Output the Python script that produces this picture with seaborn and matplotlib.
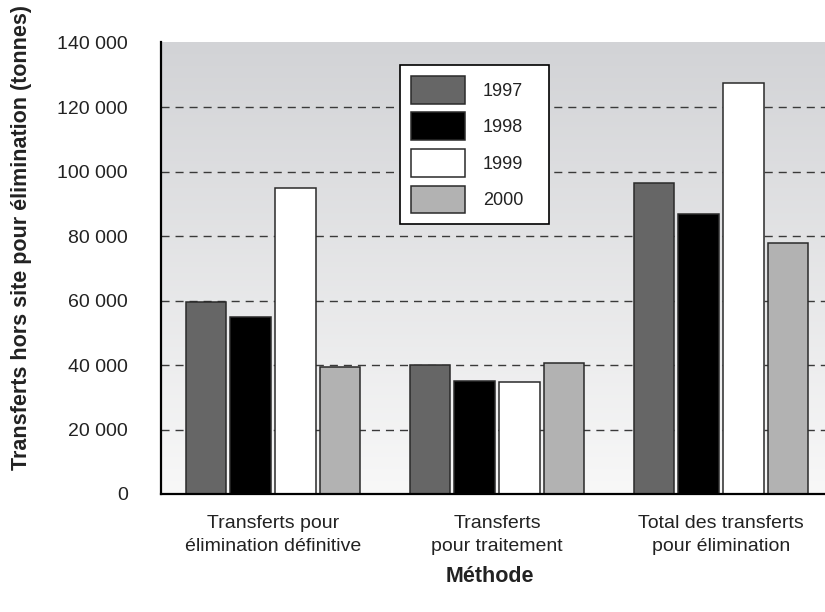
import numpy as np
import pandas as pd
import matplotlib
matplotlib.use('Agg')
import matplotlib.pyplot as plt
import seaborn as sns

methodes = ['Transferts pour\nélimination définitive',
            'Transferts\npour traitement',
            'Total des transferts\npour élimination']
annees = ['1997', '1998', '1999', '2000']
v1997 = [59700, 39900, 96400]
v1998 = [55000, 35000, 87000]
v1999 = [94900, 34800, 127500]
v2000 = [39300, 40700, 77800]
couleurs = ['#666666', '#000000', '#ffffff', '#b2b2b2']
yticks = [0, 20000, 40000, 60000, 80000, 100000, 120000, 140000]
ytick_labels = ['0', '20 000', '40 000', '60 000', '80 000', '100 000', '120 000', '140 000']

df = pd.DataFrame({
    'methode': methodes * 4,
    'annee': [a for a in annees for _ in methodes],
    'tonnes': v1997 + v1998 + v1999 + v2000,
})

sns.set_style('white')
plt.rcParams['font.family'] = ['Liberation Sans', 'DejaVu Sans']

fig = plt.figure(figsize=(8.25, 6.12), dpi=100)
ax = fig.add_axes([161 / 825, 1 - 494 / 612, 664 / 825, (494 - 41.7) / 612])

# fond en dégradé vertical
top = np.array([210, 211, 214]) / 255
bot = np.array([248, 248, 248]) / 255
t = np.linspace(0, 1, 256)[:, None]
grad = (top * (1 - t) + bot * t)[:, None, :]
ax.imshow(grad, extent=[0, 1, 0, 1], transform=ax.transAxes, aspect='auto', zorder=0)

sns.barplot(data=df, x='methode', y='tonnes', hue='annee', palette=couleurs,
            width=0.8, gap=0.1, edgecolor='#2a2a2a', linewidth=1.1,
            saturation=1, errorbar=None, zorder=2, ax=ax)

for y in yticks[1:-1]:
    ax.axhline(y, color='#3a3a3a', lw=1, ls=(0, (5.8, 4.3)), zorder=1)

ax.set_xlim(-0.5, 2.464)
ax.set_ylim(0, 140300)
ax.set_yticks(yticks)
ax.set_yticklabels(ytick_labels)
ax.tick_params(axis='y', labelsize=14, length=7, width=1, color='#222222', pad=17, labelcolor='#222222')
ax.tick_params(axis='x', labelsize=14, length=0, pad=15, labelcolor='#222222')
for lab in ax.get_xticklabels():
    lab.set_linespacing(1.45)
ticks = ax.yaxis.get_major_ticks()
ticks[0].tick1line.set_visible(False)
ticks[-1].tick1line.set_visible(False)
ax.set_xlabel('')
ax.set_ylabel('')

for s in ['top', 'right']:
    ax.spines[s].set_visible(False)
for s in ['left', 'bottom']:
    ax.spines[s].set_linewidth(1.6)
    ax.spines[s].set_color('black')

handles, labels = ax.get_legend_handles_labels()
leg = ax.legend(handles, labels, loc='upper left',
                bbox_to_anchor=(400 / 825, 1 - 226 / 612, 149 / 825, 161 / 612),
                bbox_transform=fig.transFigure, mode='expand', frameon=True, fancybox=False,
                edgecolor='black', facecolor='white', framealpha=1, fontsize=13,
                handlelength=3.0, handleheight=2.0, labelspacing=0.48,
                handletextpad=1.0, borderpad=0.6, borderaxespad=0)
leg.get_frame().set_linewidth(1.2)
for txt in leg.get_texts():
    txt.set_color('#222222')

fig.text(22 / 825, 1 - 238 / 612, 'Transferts hors site pour élimination (tonnes)',
         rotation=90, ha='center', va='center', fontsize=15.5, fontweight='bold', color='#222222')
fig.text(490 / 825, 1 - 576 / 612, 'Méthode', ha='center', va='center',
         fontsize=15.5, fontweight='bold', color='#222222')

fig.savefig('out.png', dpi=100)
